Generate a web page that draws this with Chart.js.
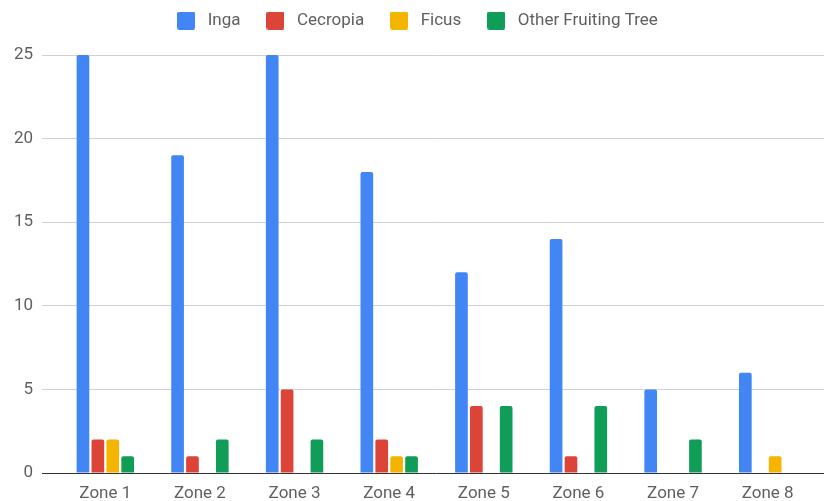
<!DOCTYPE html>
<html>
<head>
<meta charset="utf-8">
<script src="https://cdn.jsdelivr.net/npm/chart.js@4"></script>
<style>
  html, body { margin: 0; padding: 0; background: #fff; }
  #wrap { width: 824px; height: 501px; }
</style>
</head>
<body>
<div id="wrap"><canvas id="treeChart"></canvas></div>
<script>
const zones = ['Zone 1', 'Zone 2', 'Zone 3', 'Zone 4', 'Zone 5', 'Zone 6', 'Zone 7', 'Zone 8'];
const inga = [25, 19, 25, 18, 12, 14, 5, 6];
const cecropia = [2, 1, 5, 2, 4, 1, 0, 0];
const ficus = [2, 0, 0, 1, 0, 0, 0, 1];
const otherFruiting = [1, 2, 2, 1, 4, 4, 2, 0];
const yTicks = [0, 5, 10, 15, 20, 25];

const textColor = '#5f5f5f';
const gridColor = '#d0d0d0';
const baseColor = '#333333';

// small rounded swatch used as the legend marker
const swatch = (color) => {
  const c = document.createElement('canvas');
  c.width = 18;
  c.height = 18;
  const g = c.getContext('2d');
  g.fillStyle = color;
  g.beginPath();
  g.roundRect(0, 0, 18, 18, 2);
  g.fill();
  return c;
};

const makeSet = (label, data, color) => ({
  label,
  data,
  backgroundColor: color,
  pointStyle: swatch(color),
  borderRadius: { topLeft: 2, topRight: 2 },
  borderSkipped: 'start',
  categoryPercentage: 0.63,
  barPercentage: 0.85
});

// grid lines reach past the plot on the right, up to the canvas edge
const extendGrid = {
  id: 'extendGrid',
  beforeDatasetsDraw(chart) {
    const { ctx, chartArea, scales } = chart;
    ctx.save();
    ctx.lineWidth = 1;
    yTicks.forEach(v => {
      const y = Math.round(scales.y.getPixelForValue(v) - 0.5) + 0.5;
      ctx.strokeStyle = v === 0 ? baseColor : gridColor;
      ctx.beginPath();
      ctx.moveTo(chartArea.right, y);
      ctx.lineTo(chart.width, y);
      ctx.stroke();
    });
    ctx.restore();
  }
};

// nudge the legend row: a bit right and up
const legendNudge = {
  id: 'legendNudge',
  afterLayout(chart) {
    const lg = chart.legend;
    lg.left += 8;
    lg.right += 8;
    lg.top -= 16;
    lg.bottom -= 16;
  }
};

new Chart(document.getElementById('treeChart'), {
  type: 'bar',
  data: {
    labels: zones,
    datasets: [
      makeSet('Inga', inga, '#4285F4'),
      makeSet('Cecropia', cecropia, '#DB4437'),
      makeSet('Ficus', ficus, '#F4B400'),
      makeSet('Other Fruiting Tree', otherFruiting, '#0F9D58')
    ]
  },
  options: {
    responsive: true,
    maintainAspectRatio: false,
    animation: false,
    layout: { padding: { top: 6, right: 9, bottom: 0, left: 0 } },
    plugins: {
      legend: {
        position: 'top',
        labels: {
          color: textColor,
          font: { family: 'Roboto', size: 17 },
          usePointStyle: true,
          pointStyleWidth: 26,
          padding: 22
        }
      },
      tooltip: { enabled: false }
    },
    scales: {
      x: {
        grid: { display: false },
        border: { display: false },
        ticks: {
          color: textColor,
          font: { family: 'Roboto', size: 17 },
          padding: 3
        },
        afterFit(scale) { scale.height = 28; }
      },
      y: {
        min: 0,
        max: 25,
        border: { display: false },
        grid: {
          color: ctx => ctx.tick && ctx.tick.value === 0 ? baseColor : gridColor,
          tickColor: ctx => ctx.tick && ctx.tick.value === 0 ? baseColor : gridColor,
          tickLength: 16
        },
        afterBuildTicks(scale) {
          scale.ticks = yTicks.map(v => ({ value: v }));
        },
        ticks: {
          color: textColor,
          font: { family: 'Roboto', size: 17 },
          padding: 9
        },
        afterFit(scale) { scale.width = 58; }
      }
    }
  },
  plugins: [extendGrid, legendNudge]
});
</script>
</body>
</html>
